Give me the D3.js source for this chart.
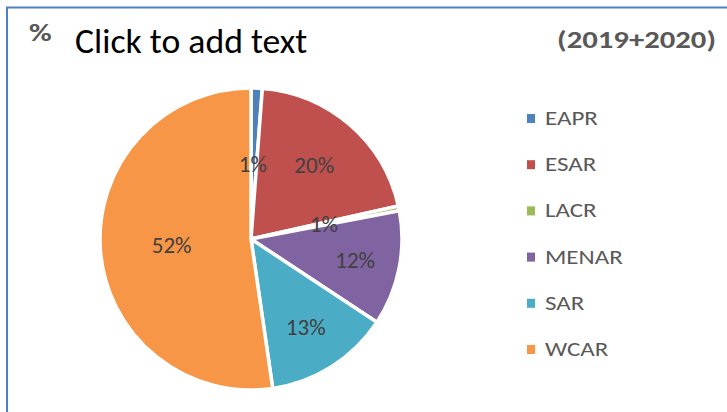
<!DOCTYPE html>
<html lang="en">
<head>
<meta charset="utf-8">
<title>Pie by region</title>
<script src="https://d3js.org/d3.v7.min.js"></script>
<style>
body{margin:0;background:#fff;}
text{font-family:Calibri,Carlito,"Open Sans",sans-serif;}
</style>
</head>
<body>
<div id="chart"></div>
<script>
// regions and their share (%)
var regions = ["EAPR","ESAR","LACR","MENAR","SAR","WCAR"];
var shares = [1.2, 20.3, 0.5, 12.3, 13.4, 52.3];
var colours = ["#4F81BD","#C0504D","#9BBB59","#8064A2","#4BACC6","#F79646"];
var titleLeft = "%";
var titleRight = "s (2019+2020)";
var overlayText = "Click to add text";

var w = 727, h = 412;
var cx = 251, cy = 239, r = 151;
// label distance as fraction of radius (Excel best fit)
var labelDist = [0.5, 0.65, 0.5, 0.71, 0.69, 0.52];

var svg = d3.select("#chart").append("svg")
  .attr("width", w).attr("height", h);

// text that is a bit wider than the local font renders it
function wideText(parent, x, y, size, sx, str){
  return parent.append("text")
    .attr("transform","translate("+x+","+y+") scale("+sx+",1)")
    .attr("font-size",size)
    .text(str);
}

// frame
svg.append("path")
  .attr("d", "M7,412 L7,7.5 L727,7.5")
  .attr("fill","none")
  .attr("stroke","#4F7FC4")
  .attr("stroke-width",2);

// title
wideText(svg, 29, 41, 24, 1.3, titleLeft)
  .attr("font-weight","bold").attr("fill","#595959");
wideText(svg, 716, 48, 24, 1.28, titleRight)
  .attr("font-weight","bold").attr("fill","#595959").attr("text-anchor","end");
svg.append("rect").attr("x",60).attr("y",20).attr("width",490).attr("height",45)
  .attr("fill","#fff");
wideText(svg, 75, 53, 34, 1.05, overlayText).attr("fill","#000");

var pie = d3.pie().sort(null).value(function(d){return d;});
var arcs = pie(shares);
var arc = d3.arc().innerRadius(0).outerRadius(r);

var g = svg.append("g").attr("transform","translate("+cx+","+cy+")");
g.selectAll("path.slice")
  .data(arcs)
  .enter().append("path")
  .attr("class","slice")
  .attr("d", arc)
  .attr("fill", function(d,i){return colours[i];})
  .attr("stroke","#fff")
  .attr("stroke-width",3.5)
  .attr("stroke-linejoin","round");

g.selectAll("text.lbl")
  .data(arcs)
  .enter().append("text")
  .attr("class","lbl")
  .attr("transform", function(d,i){
    var a = (d.startAngle+d.endAngle)/2;
    var k = labelDist[i]*r;
    return "translate("+(Math.sin(a)*k - 1)+","+(-Math.cos(a)*k)+")";
  })
  .attr("text-anchor","middle")
  .attr("dy","0.35em")
  .attr("font-size",23)
  .attr("fill","#404040")
  .text(function(d){return Math.round(d.data)+"%";});

// legend
var y = d3.scalePoint().domain(regions).range([118,349]);
var leg = svg.selectAll("g.leg").data(regions).enter().append("g")
  .attr("class","leg")
  .attr("transform", function(d){return "translate(527,"+y(d)+")";});
leg.append("rect").attr("x",0).attr("y",-4).attr("width",8).attr("height",9)
  .attr("fill", function(d,i){return colours[i];});
leg.each(function(d){
  wideText(d3.select(this), 18, 7, 20, 1.25, d).attr("fill","#595959");
});
</script>
</body>
</html>
